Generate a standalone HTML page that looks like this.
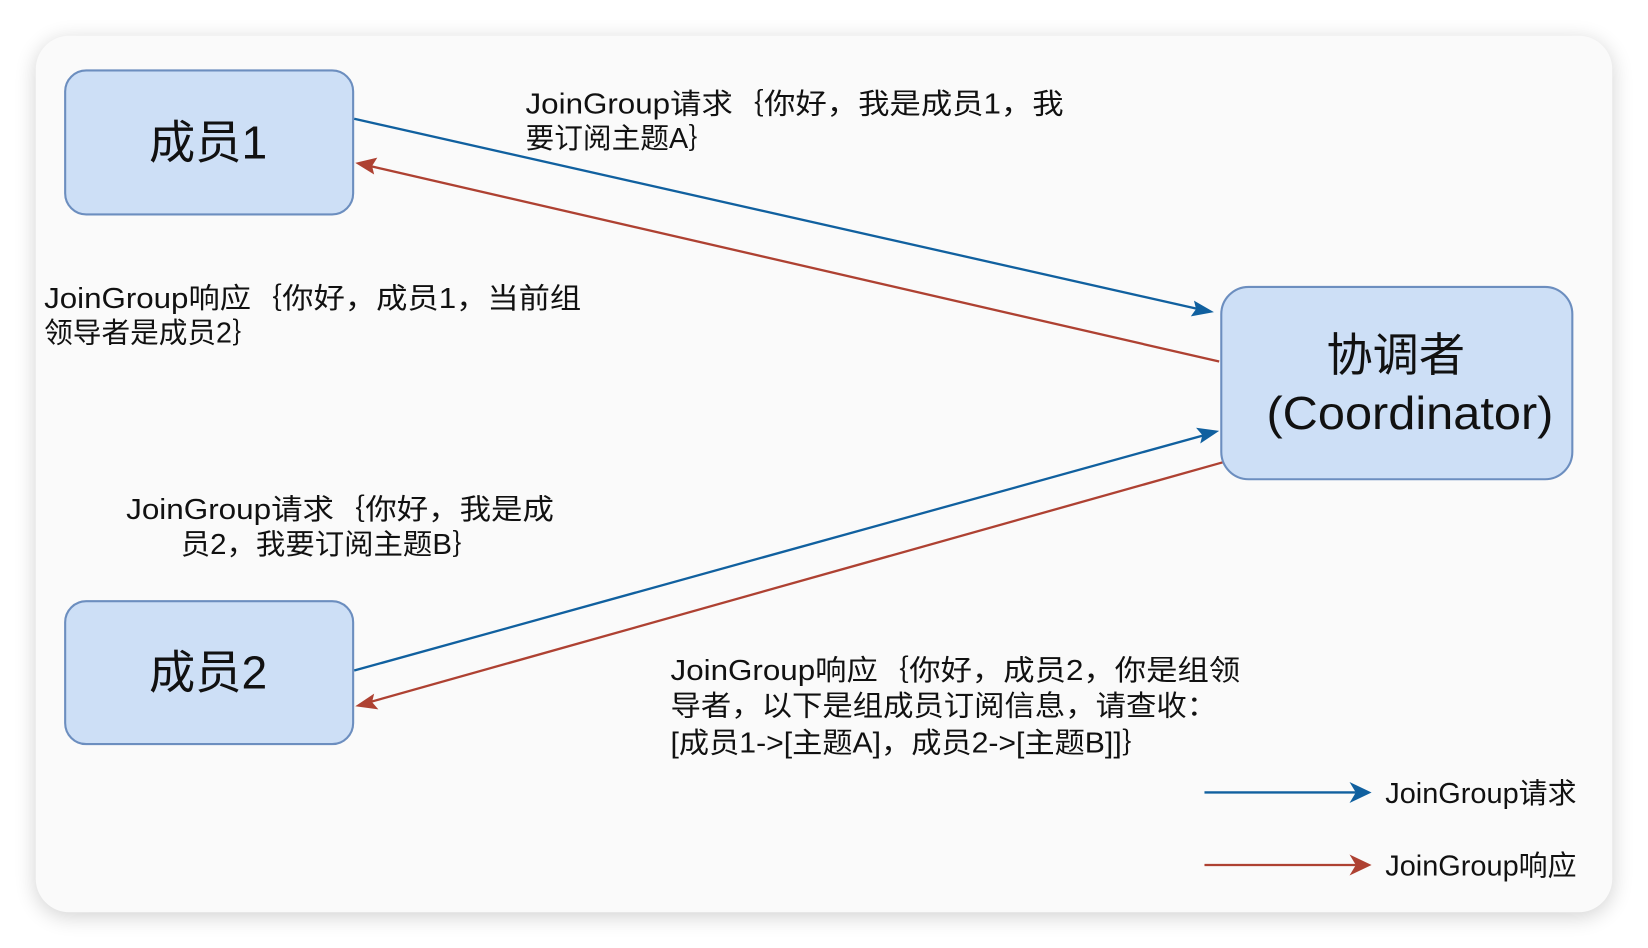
<!DOCTYPE html>
<html><head><meta charset="utf-8"><style>
html,body{margin:0;padding:0;background:#fff;width:1648px;height:948px;overflow:hidden}
svg{display:block}
text{font-family:"Liberation Sans","Noto Sans CJK SC",sans-serif;fill:#111}
</style></head><body>
<svg width="1648" height="948" viewBox="0 0 1568 902" preserveAspectRatio="none">
<defs>
<filter id="sh" x="-5%" y="-5%" width="110%" height="110%"><feGaussianBlur stdDeviation="10"/></filter>
</defs>
<rect x="34" y="38" width="1500" height="834" rx="32" fill="#000" opacity="0.18" filter="url(#sh)"/>
<rect x="34" y="34" width="1500" height="834" rx="32" fill="#fafafa"/>
<g fill="#cddff6" stroke="#6c8ebf" stroke-width="2">
<rect x="62" y="67" width="274" height="137" rx="20"/>
<rect x="62" y="572" width="274" height="136" rx="20"/>
<rect x="1162" y="273" width="334" height="183" rx="26"/>
</g>
<text x="198" y="151" font-size="44" text-anchor="middle">成员1</text>
<text x="198" y="655" font-size="44" text-anchor="middle">成员2</text>
<text x="1328" y="353" font-size="44" text-anchor="middle">协调者</text>
<text x="1205" y="408" font-size="44" textLength="273" lengthAdjust="spacingAndGlyphs">(Coordinator)</text>
<g stroke-width="2.2" fill="none">
<line x1="337" y1="113" x2="1140" y2="294" stroke="#10609f"/>
<path d="M1155,297 L1133,301 L1138,294 L1136,286 z" fill="#10609f" stroke="none"/>
<line x1="1160" y1="344" x2="352" y2="158" stroke="#ae4132"/>
<path d="M338,155 L359,150 L354,158 L356,166 z" fill="#ae4132" stroke="none"/>
<line x1="337" y1="638" x2="1146" y2="414" stroke="#10609f"/>
<path d="M1160,410 L1142,422 L1144,414 L1138,407 z" fill="#10609f" stroke="none"/>
<line x1="1163" y1="440" x2="352" y2="668" stroke="#ae4132"/>
<path d="M338,672 L356,660 L354,668 L360,675 z" fill="#ae4132" stroke="none"/>
<line x1="1146" y1="754" x2="1290" y2="754" stroke="#10609f"/>
<path d="M1305,754 L1284,744 L1290,754 L1284,764 z" fill="#10609f" stroke="none"/>
<line x1="1146" y1="823" x2="1290" y2="823" stroke="#ae4132"/>
<path d="M1305,823 L1284,813 L1290,823 L1284,833 z" fill="#ae4132" stroke="none"/>
</g>
<g font-size="27" lengthAdjust="spacingAndGlyphs">
<text x="500" y="108" textLength="512" lengthAdjust="spacingAndGlyphs">JoinGroup请求｛你好，我是成员1，我</text>
<text x="500" y="141" textLength="182" lengthAdjust="spacingAndGlyphs">要订阅主题A｝</text>
<text x="42" y="293" textLength="511" lengthAdjust="spacingAndGlyphs">JoinGroup响应｛你好，成员1，当前组</text>
<text x="42" y="326" textLength="206" lengthAdjust="spacingAndGlyphs">领导者是成员2｝</text>
<text x="120" y="494" textLength="407" lengthAdjust="spacingAndGlyphs">JoinGroup请求｛你好，我是成</text>
<text x="172" y="527" textLength="286" lengthAdjust="spacingAndGlyphs">员2，我要订阅主题B｝</text>
<text x="638" y="647" textLength="542" lengthAdjust="spacingAndGlyphs">JoinGroup响应｛你好，成员2，你是组领</text>
<text x="638" y="681" textLength="520" lengthAdjust="spacingAndGlyphs">导者，以下是组成员订阅信息，请查收：</text>
<text x="638" y="716" textLength="458" lengthAdjust="spacingAndGlyphs">[成员1-&gt;[主题A]，成员2-&gt;[主题B]]｝</text>
<text x="1318" y="764" textLength="182" lengthAdjust="spacingAndGlyphs">JoinGroup请求</text>
<text x="1318" y="833" textLength="182" lengthAdjust="spacingAndGlyphs">JoinGroup响应</text>
</g>
</svg>
</body></html>
